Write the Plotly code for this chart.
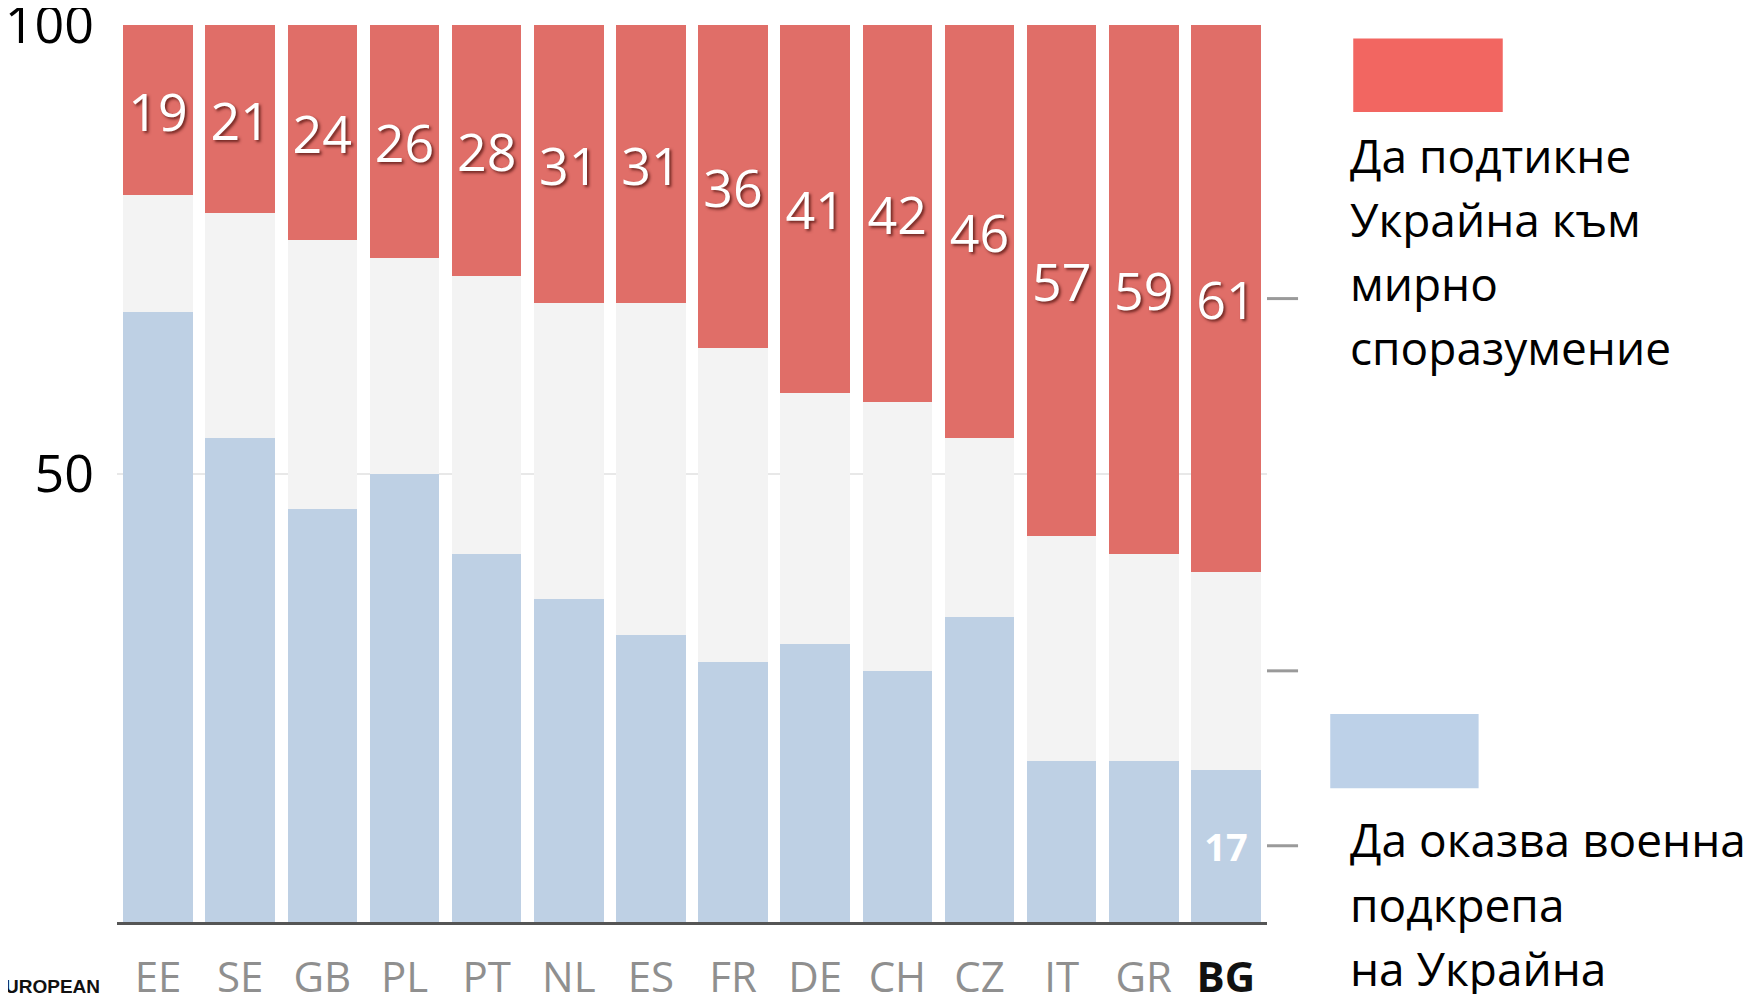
import plotly.graph_objects as go

countries = ['EE', 'SE', 'GB', 'PL', 'PT', 'NL', 'ES', 'FR', 'DE', 'CH', 'CZ', 'IT', 'GR', 'BG']
military = [68, 54, 46, 50, 41, 36, 32, 29, 31, 28, 34, 18, 18, 17]
undecided = [13, 25, 30, 24, 31, 33, 37, 35, 28, 30, 20, 25, 23, 22]
peace = [19, 21, 24, 26, 28, 31, 31, 36, 41, 42, 46, 57, 59, 61]
side_ticks = [69.5, 28, 8.5]

peace_label = ['Да подтикне', 'Украйна към', 'мирно', 'споразумение']
military_label = ['Да оказва военна', 'подкрепа', 'на Украйна']

RED = '#e06e68'
BLUE = '#bed0e4'
GRAY = '#f3f3f3'
NUMFONT = 'Open Sans, sans-serif'

fig = go.Figure()
fig.add_bar(
    x=countries, y=military, marker=dict(color=BLUE, line_width=0),
    text=[str(v) if c == 'BG' else '' for c, v in zip(countries, military)],
    textposition='inside', insidetextanchor='middle', textangle=0,
    textfont=dict(family='Open Sans', size=38, color='white', weight='bold'),
)
fig.add_bar(x=countries, y=undecided, marker=dict(color=GRAY, line_width=0))
fig.add_bar(
    x=countries, y=peace, marker=dict(color=RED, line_width=0),
    text=peace, textposition='inside', insidetextanchor='middle', textangle=0,
    textfont=dict(family=NUMFONT, size=52, color='white',
                  shadow='2px 2px 3px rgba(90,25,20,0.85)'),
)

ticktext = [
    f'<span style="color:#111;font-family:Open Sans"><b>{c}</b></span>' if c == 'BG' else c
    for c in countries
]

shapes = [
    dict(type='line', xref='paper', yref='y', x0=1.0, x1=1.027, y0=v, y1=v,
         line=dict(color='#9a9a9a', width=3))
    for v in side_ticks
]
# legend squares
shapes.append(dict(type='rect', xref='paper', yref='paper', x0=1.075, x1=1.205,
                   y0=0.903, y1=0.985, fillcolor='#f26661', line_width=0))
shapes.append(dict(type='rect', xref='paper', yref='paper', x0=1.055, x1=1.184,
                   y0=0.149, y1=0.232, fillcolor='#bdd1e8', line_width=0))

annotations = []
line_step = 0.0714
for i, line in enumerate(peace_label):
    annotations.append(dict(
        text=line, xref='paper', yref='paper', x=1.070, y=0.855 - i * line_step,
        xanchor='left', yanchor='middle', showarrow=False,
        font=dict(family='Open Sans', size=46, color='black')))
for i, line in enumerate(military_label):
    annotations.append(dict(
        text=line, xref='paper', yref='paper', x=1.070, y=0.092 - i * line_step,
        xanchor='left', yanchor='middle', showarrow=False,
        font=dict(family='Open Sans', size=46, color='black')))
annotations.append(dict(
    text='<b>UROPEAN</b>', xref='paper', yref='paper', x=-0.099, y=-0.058,
    xanchor='left', yanchor='top', showarrow=False,
    font=dict(family='Liberation Sans', size=19, color='#111')))

# the page body adds an 8px offset, so the figure is 8px smaller than the window
fig.update_layout(
    width=1749, height=986,
    barmode='stack', bargap=0.153,
    showlegend=False,
    plot_bgcolor='white', paper_bgcolor='white',
    margin=dict(l=109, r=490, t=17, b=72),
    xaxis=dict(
        tickmode='array', tickvals=countries, ticktext=ticktext,
        tickfont=dict(family=NUMFONT, size=42, color='#8f8f8f'),
        showline=True, linecolor='#555555', linewidth=3,
        ticks='', ticklabelstandoff=17, showgrid=False,
        automargin=False, ticklabeloverflow='allow',
    ),
    yaxis=dict(
        range=[0, 100], tickvals=[50, 100], ticktext=['50', '100'],
        tickfont=dict(family=NUMFONT, size=52, color='black'),
        showgrid=True, gridcolor='rgba(0,0,0,0.09)', gridwidth=2,
        zeroline=False, showline=False, ticks='', ticklabelstandoff=22,
        layer='above traces', automargin=False, ticklabeloverflow='allow',
    ),
    shapes=shapes,
    annotations=annotations,
)

fig.write_html('out.html')
